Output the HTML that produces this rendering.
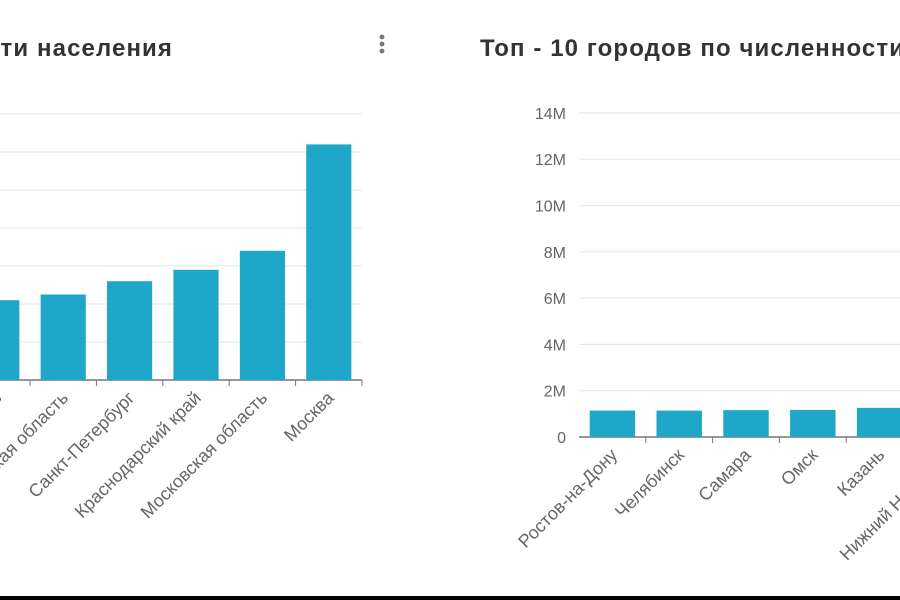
<!DOCTYPE html>
<html><head><meta charset="utf-8"><style>
html,body{margin:0;padding:0;background:#fff;width:900px;height:600px;overflow:hidden;font-family:"Liberation Sans",sans-serif}
svg{display:block}
</style></head><body>
<svg id="c" width="900" height="600" xmlns="http://www.w3.org/2000/svg"></svg>
<script>
const leftCategories=["Дагестан","Татарстан","Башкортостан","Челябинская область","Ростовская область","Свердловская область","Санкт-Петербург","Краснодарский край","Московская область","Москва"];
const leftValues=[3.1,4.0,4.0,3.4,4.2,4.5,5.2,5.8,6.8,12.4];
const leftTicks=[0,2,4,6,8,10,12,14];
const rightCategories=["Ростов-на-Дону","Челябинск","Самара","Омск","Казань","Нижний Новгород","Екатеринбург","Новосибирск","Санкт-Петербург","Москва"];
const rightValues=[1.14,1.14,1.16,1.17,1.26,1.25,1.5,1.6,5.4,12.6];
const rightTicks=[0,2,4,6,8,10,12,14];
const rightTickLabels=["0","2M","4M","6M","8M","10M","12M","14M"];

const NS="http://www.w3.org/2000/svg";
const svg=document.getElementById('c');
function mk(tag,attrs,parent){const e=document.createElementNS(NS,tag);for(const k in attrs)e.setAttribute(k,attrs[k]);(parent||svg).appendChild(e);return e;}

function chart(o){
  const g=mk('g',{});
  
  
  const y=v=>o.base-(v/2)*o.step;
  const band=o.band, x0=o.xEnd-band*o.cats.length;
  o.ticks.forEach((t,i)=>{
    if(t>0){const l=mk('line',{x1:o.gx1,x2:o.gx2,y1:y(t),y2:y(t),stroke:'#e6e9f4','stroke-width':1.2},g);
      
      }
    if(o.tickLabels){const tx=mk('text',{x:o.gx1-13,y:y(t)+6,'text-anchor':'end','font-size':16,fill:'#666'},g);tx.textContent=o.tickLabels[i];
      
      }
  });
  const ax=mk('line',{x1:o.gx1,x2:o.gx2,y1:o.base,y2:o.base,stroke:'#777','stroke-width':1.5},g);
  
  
  o.cats.forEach((c,i)=>{
    const bx=x0+band*i;
    const tk=mk('line',{x1:bx+band,x2:bx+band,y1:o.base,y2:o.base+6,stroke:'#777','stroke-width':1},g);
    
    
    const r=mk('rect',{x:bx+band*0.16,width:band*0.68,y:y(o.vals[i]),height:o.base-y(o.vals[i]),fill:'#1fa7c9'},g);
    
    
    const cx=bx+band/2+6, cy=o.base+19;
    const t=mk('text',{x:cx,y:cy,'text-anchor':'end','font-size':18,fill:'#666',transform:`rotate(-45 ${cx} ${cy})`},g);
    t.textContent=c;
    
    
  });
}
chart({name:'regions-chart',cats:leftCategories,vals:leftValues,ticks:leftTicks,tickLabels:null,base:380,step:38,gx1:-10,gx2:362,xEnd:362,band:66.4});
chart({name:'cities-chart',cats:rightCategories,vals:rightValues,ticks:rightTicks,tickLabels:rightTickLabels,base:437,step:46.3,gx1:579,gx2:1250,xEnd:579+66.8*10,band:66.8});

let t1=mk('text',{x:173,y:56,'text-anchor':'end','font-size':24,'font-weight':'bold',fill:'#333','letter-spacing':1.1});
t1.textContent='Топ - 10 регионов по численности населения';


let t2=mk('text',{x:480,y:56,'font-size':24,'font-weight':'bold',fill:'#333','letter-spacing':1.1});
t2.textContent='Топ - 10 городов по численности населения';


const menu=mk('g',{});


[37,44,51].forEach(cy=>mk('circle',{cx:382,cy:cy,r:2.4,fill:'#777'},menu));
const bl=mk('rect',{x:0,y:596,width:900,height:4,fill:'#000'});


</script>
</body></html>
